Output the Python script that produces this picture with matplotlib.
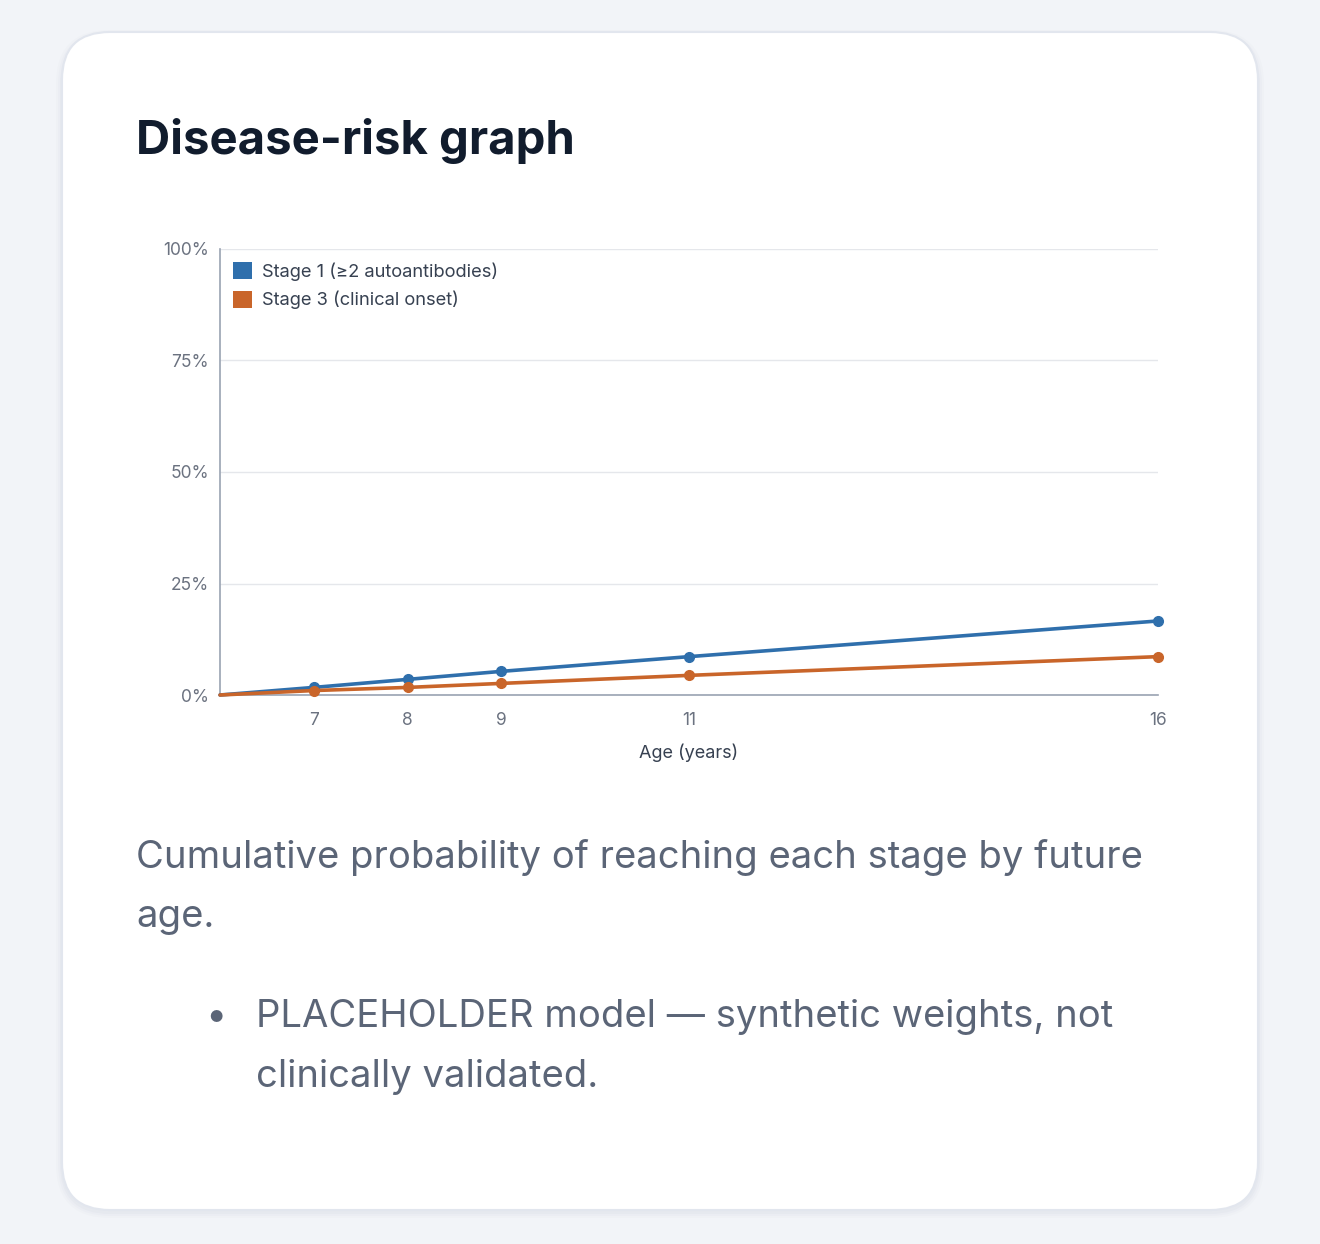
import matplotlib.pyplot as plt
from matplotlib.patches import FancyBboxPatch

# Data
ages = [6, 7, 8, 9, 11, 16]
stage1 = [0.0, 1.7, 3.5, 5.3, 8.6, 16.6]
stage3 = [0.0, 1.0, 1.7, 2.6, 4.4, 8.6]
x_ticks = [7, 8, 9, 11, 16]
y_ticks = [0, 25, 50, 75, 100]
series_names = ['Stage 1 (\u22652 autoantibodies)', 'Stage 3 (clinical onset)']
series_colors = ['#2f6fac', '#c9652a']

W, H = 1320, 1244
plt.rcParams['font.family'] = ['Inter', 'DejaVu Sans']

fig = plt.figure(figsize=(W / 100, H / 100), dpi=100)
fig.patch.set_facecolor('#f2f4f8')

# Background axes in pixel coordinates for the card and texts
bg = fig.add_axes([0, 0, 1, 1])
bg.set_xlim(0, W)
bg.set_ylim(H, 0)
bg.axis('off')

# soft shadow + card
for i, a in enumerate([0.05, 0.04, 0.03]):
    grow = 2 + i * 2
    bg.add_patch(FancyBboxPatch((62 - grow, 34 - grow + 2), 1196 + 2 * grow, 1176 + 2 * grow,
                                boxstyle='round,pad=0,rounding_size=%d' % (48 + grow),
                                facecolor='#94a3b8', edgecolor='none', alpha=a))
bg.add_patch(FancyBboxPatch((62, 32), 1196, 1178, boxstyle='round,pad=0,rounding_size=48',
                            facecolor='white', edgecolor='#e2e6ee', linewidth=1.5))

bg.text(136, 154, 'Disease-risk graph', fontsize=34, fontweight='bold',
        color='#111c2d', va='baseline', ha='left')

body = dict(fontsize=27.5, color='#5b6577', va='baseline', ha='left')
bg.text(136, 868, 'Cumulative probability of reaching each stage by future', **body)
bg.text(136, 927, 'age.', **body)

bg.text(216, 1027, '\u2022', fontsize=27.5, color='#5b6577', va='baseline', ha='center')
bg.text(256, 1027, 'PLACEHOLDER model \u2014 synthetic weights, not', **body)
bg.text(256, 1087, 'clinically validated.', **body)

# Chart axes
left, right, top, bottom = 220, 1158, 249, 695
ax = fig.add_axes([left / W, 1 - bottom / H, (right - left) / W, (bottom - top) / H])
ax.set_facecolor('white')

for vals, name, col in zip([stage1, stage3], series_names, series_colors):
    ax.plot(ages, vals, color=col, linewidth=2.6, marker='o', markersize=7,
            markevery=list(range(1, len(ages))), label=name, clip_on=False,
            solid_capstyle='round', zorder=3)

ax.set_xlim(6, 16)
ax.set_ylim(0, 100)
ax.set_xticks(x_ticks)
ax.set_xticklabels([str(t) for t in x_ticks])
ax.set_yticks(y_ticks)
ax.set_yticklabels(['%d%%' % t for t in y_ticks])
ax.tick_params(axis='both', length=0, labelsize=12.5, labelcolor='#6b7280')
ax.tick_params(axis='x', pad=12)
ax.tick_params(axis='y', pad=8)
ax.grid(axis='y', color='#e5e7eb', linewidth=1)
ax.set_axisbelow(True)
for s in ['top', 'right']:
    ax.spines[s].set_visible(False)
ax.spines['left'].set_color('#9aa3b2')
ax.spines['bottom'].set_color('#9aa3b2')
ax.spines['left'].set_linewidth(1.2)
ax.spines['bottom'].set_linewidth(1.2)

ax.set_xlabel('Age (years)', fontsize=13, color='#374151', labelpad=11)

handles = [plt.Rectangle((0, 0), 1, 1, facecolor=c) for c in series_colors]
ax.legend(handles, series_names, loc='upper left', frameon=False, fontsize=13.2,
          handlelength=1.05, handleheight=1.05, handletextpad=0.55, labelspacing=0.55,
          borderaxespad=0.3, labelcolor='#374151', bbox_to_anchor=(0.0, 1.0))

fig.savefig('out.png', dpi=100, facecolor=fig.get_facecolor())
